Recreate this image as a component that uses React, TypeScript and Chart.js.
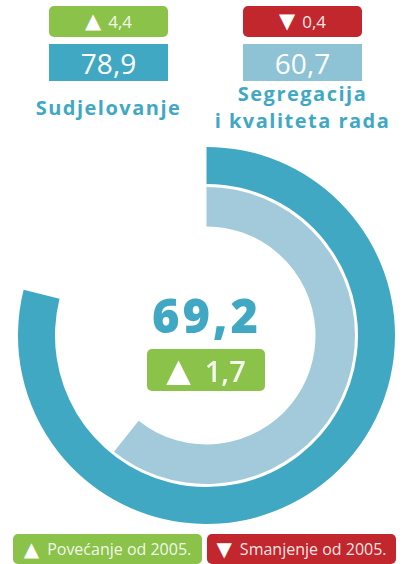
import React, { useEffect, useRef } from "react";
import { Chart, registerables } from "chart.js";

Chart.register(...registerables);

const seriesNames = ["Sudjelovanje", "Segregacija i kvaliteta rada"];
const seriesValues = [78.9, 60.7];
const seriesChanges = [4.4, -0.4];
const totalValue = 69.2;
const totalChange = 1.7;
const legendLabels = ["Povećanje od 2005.", "Smanjenje od 2005."];
const maxValue = 100;

const TEAL = "#41a8c4";
const LIGHT = "#a2cadb";
const LIGHT_BOX = "#8ec3d6";
const GREEN = "#8bc24a";
const RED = "#c1272d";
const FONT = "'Open Sans', 'DejaVu Sans', sans-serif";
const TRI = "'DejaVu Sans', sans-serif";

const fmt = (v: number) => Math.abs(v).toFixed(1).replace(".", ",");

function ChangeBox({ change, left, top, width, height, fontSize, triSize, weight, gap }: any) {
  const up = change >= 0;
  return (
    <div
      style={{
        position: "absolute",
        left,
        top,
        width,
        height,
        background: up ? GREEN : RED,
        borderRadius: 5,
        display: "flex",
        alignItems: "center",
        justifyContent: "center",
        color: "rgba(255,255,255,0.9)",
        fontFamily: FONT,
        fontSize,
        fontWeight: weight || 400,
        lineHeight: 1,
      }}
    >
      <span style={{ fontFamily: TRI, fontSize: triSize, color: "#fff", marginRight: gap, lineHeight: 1 }}>
        {up ? "▲" : "▼"}
      </span>
      <span>{fmt(change)}</span>
    </div>
  );
}

export default function App() {
  const ref = useRef<HTMLCanvasElement | null>(null);

  useEffect(() => {
    if (!ref.current) return;
    const chart = new Chart(ref.current, {
      type: "doughnut",
      data: {
        labels: ["value", "rest"],
        datasets: [
          {
            data: [seriesValues[0], maxValue - seriesValues[0]],
            backgroundColor: [TEAL, "rgba(0,0,0,0)"],
            weight: 37,
          },
          {
            data: [maxValue],
            backgroundColor: ["rgba(0,0,0,0)"],
            weight: 3,
          },
          {
            data: [seriesValues[1], maxValue - seriesValues[1]],
            backgroundColor: [LIGHT, "rgba(0,0,0,0)"],
            weight: 39.5,
          },
        ],
      },
      options: {
        responsive: false,
        animation: false,
        events: [],
        cutout: 109,
        elements: {
          arc: { borderWidth: 0, hoverBorderWidth: 0, offset: 0, hoverOffset: 0 } as any,
        },
        plugins: { legend: { display: false }, tooltip: { enabled: false } },
        layout: { padding: 0 },
      } as any,
    });
    return () => chart.destroy();
  }, []);

  const labelStyle: React.CSSProperties = {
    position: "absolute",
    color: TEAL,
    fontFamily: FONT,
    fontWeight: 700,
    fontSize: 20,
    letterSpacing: 1.5,
    lineHeight: "27px",
    textAlign: "center",
    whiteSpace: "nowrap",
  };

  const legendBox = (bg: string): React.CSSProperties => ({
    position: "absolute",
    top: 534,
    width: 189,
    height: 30,
    background: bg,
    borderRadius: 5,
    color: "rgba(255,255,255,0.9)",
    fontFamily: FONT,
    fontSize: 16,
    lineHeight: 1,
    display: "flex",
    alignItems: "center",
    justifyContent: "center",
    whiteSpace: "nowrap",
  });

  return (
    <div style={{ position: "absolute", left: 0, top: 0, width: 402, height: 564, background: "#fff", overflow: "hidden" }}>
      <canvas ref={ref} width={377} height={377} style={{ position: "absolute", left: 18, top: 147, width: 377, height: 377 }} />

      <ChangeBox change={seriesChanges[0]} left={49} top={6} width={119} height={31} fontSize={17} triSize={21} gap={7} />
      <div style={{ position: "absolute", left: 49, top: 44, width: 119, height: 37, background: TEAL, color: "#fff", fontFamily: FONT, fontSize: 28, display: "flex", alignItems: "center", justifyContent: "center" }}>
        {fmt(seriesValues[0])}
      </div>
      <div style={{ ...labelStyle, left: 8, width: 201, top: 94 }}>{seriesNames[0]}</div>

      <ChangeBox change={seriesChanges[1]} left={243} top={6} width={119} height={31} fontSize={17} triSize={21} gap={7} />
      <div style={{ position: "absolute", left: 243, top: 44, width: 119, height: 37, background: LIGHT_BOX, color: "#fff", fontFamily: FONT, fontSize: 28, display: "flex", alignItems: "center", justifyContent: "center" }}>
        {fmt(seriesValues[1])}
      </div>
      <div style={{ ...labelStyle, left: 202, width: 201, top: 80 }}>
        Segregacija
        <br />i kvaliteta rada
      </div>

      <div style={{ position: "absolute", left: 106, width: 201, top: 285, textAlign: "center", color: TEAL, fontFamily: FONT, fontWeight: 800, fontSize: 47, letterSpacing: 3, lineHeight: "60px" }}>
        {fmt(totalValue)}
      </div>
      <ChangeBox change={totalChange} left={147} top={349} width={118} height={42} fontSize={29} triSize={32} weight={600} gap={14} />

      <div style={{ ...legendBox(GREEN), left: 13 }}>
        <span style={{ fontFamily: TRI, fontSize: 20, color: "#fff", marginRight: 8, lineHeight: 1 }}>▲</span>
        {legendLabels[0]}
      </div>
      <div style={{ ...legendBox(RED), left: 207 }}>
        <span style={{ fontFamily: TRI, fontSize: 20, color: "#fff", marginRight: 8, lineHeight: 1 }}>▼</span>
        {legendLabels[1]}
      </div>
    </div>
  );
}
